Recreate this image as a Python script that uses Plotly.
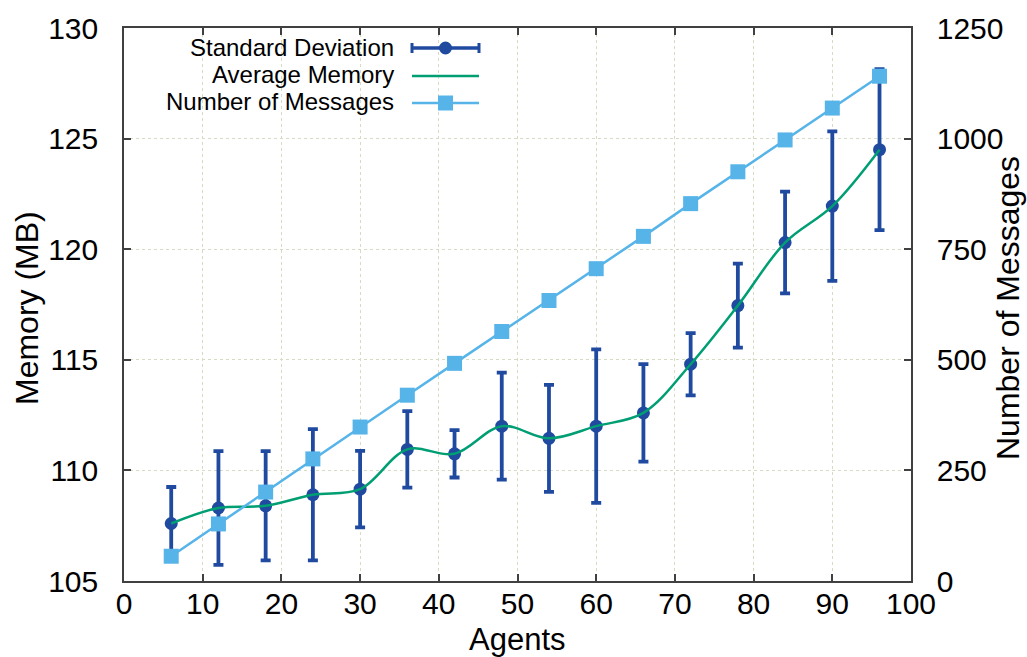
import plotly.graph_objects as go

agents = [6, 12, 18, 24, 30, 36, 42, 48, 54, 60, 66, 72, 78, 84, 90, 96]
avg_memory = [107.6, 108.3, 108.4, 108.9, 109.15, 110.95, 110.75, 112.0, 111.45, 112.0,
              112.6, 114.8, 117.45, 120.3, 121.95, 124.5]
std_dev = [1.65, 2.57, 2.47, 2.97, 1.73, 1.73, 1.07, 2.42, 2.42, 3.47,
           2.2, 1.41, 1.9, 2.3, 3.38, 3.64]
messages = [56, 129, 201, 276, 348, 420, 492, 564, 634, 706, 779, 853, 925, 997, 1069, 1141]

x_ticks = list(range(0, 101, 10))
y_ticks = [105, 110, 115, 120, 125, 130]
y2_ticks = [0, 250, 500, 750, 1000, 1250]

DARK = "#1f4aa0"
GREEN = "#009e73"
LIGHT = "#56b4e9"
FONT = "Liberation Sans, Arial, sans-serif"
TICK_SIZE = 30
LEG_SIZE = 24

fig = go.Figure()

fig.add_trace(go.Scatter(
    x=agents, y=messages, mode="lines+markers", name="Number of Messages",
    yaxis="y2", line=dict(color=LIGHT, width=2.5),
    marker=dict(symbol="square", size=15, color=LIGHT),
    showlegend=False))

fig.add_trace(go.Scatter(
    x=agents, y=avg_memory, mode="markers", name="Standard Deviation",
    marker=dict(symbol="circle", size=13, color=DARK),
    error_y=dict(type="data", array=std_dev, visible=True, color=DARK, thickness=3.8, width=5),
    showlegend=False))

fig.add_trace(go.Scatter(
    x=agents, y=avg_memory, mode="lines", name="Average Memory",
    line=dict(color=GREEN, width=2.5, shape="spline", smoothing=1.0),
    showlegend=False))

# custom legend (text right-aligned, sample to the right), gnuplot style
L, R, T, B = 124, 911, 28, 581
W, H = R - L, B - T

def px(xp):
    return (xp - L) / W

def py(yp):
    return (B - yp) / H

legend_rows = [("Standard Deviation", 47), ("Average Memory", 75), ("Number of Messages", 102)]
for text, yy in legend_rows:
    fig.add_annotation(x=px(396), y=py(yy), xref="paper", yref="paper", text=text,
                       showarrow=False, xanchor="right", yanchor="middle",
                       font=dict(family=FONT, size=LEG_SIZE, color="#000000"))

sx0, sx1 = px(412), px(479)
# standard deviation sample
fig.add_shape(type="line", xref="paper", yref="paper", x0=sx0, x1=sx1, y0=py(48), y1=py(48),
              line=dict(color=DARK, width=3.5))
for xe in (412, 479):
    fig.add_shape(type="line", xref="paper", yref="paper", x0=px(xe), x1=px(xe),
                  y0=py(43), y1=py(53), line=dict(color=DARK, width=3))
fig.add_shape(type="circle", xref="paper", yref="paper", xsizemode="pixel", ysizemode="pixel",
              xanchor=px(445.5), yanchor=py(48), x0=-6.5, x1=6.5, y0=-6.5, y1=6.5,
              fillcolor=DARK, line=dict(color=DARK, width=0))
# average memory sample
fig.add_shape(type="line", xref="paper", yref="paper", x0=sx0, x1=sx1, y0=py(76), y1=py(76),
              line=dict(color=GREEN, width=2.5))
# messages sample
fig.add_shape(type="line", xref="paper", yref="paper", x0=sx0, x1=sx1, y0=py(103), y1=py(103),
              line=dict(color=LIGHT, width=2.5))
fig.add_shape(type="rect", xref="paper", yref="paper", xsizemode="pixel", ysizemode="pixel",
              xanchor=px(445.5), yanchor=py(103), x0=-7.5, x1=7.5, y0=-7.5, y1=7.5,
              fillcolor=LIGHT, line=dict(color=LIGHT, width=0))

# axis titles as annotations for exact placement
fig.add_annotation(x=0.5, y=py(639), xref="paper", yref="paper", text="Agents",
                   showarrow=False, xanchor="center", yanchor="middle",
                   font=dict(family=FONT, size=31, color="#000000"))
fig.add_annotation(x=px(27), y=py(308), xref="paper", yref="paper", text="Memory (MB)",
                   showarrow=False, xanchor="center", yanchor="middle", textangle=-90,
                   font=dict(family=FONT, size=32, color="#000000"))
fig.add_annotation(x=px(1008), y=py(308), xref="paper", yref="paper", text="Number of Messages",
                   showarrow=False, xanchor="center", yanchor="middle", textangle=-90,
                   font=dict(family=FONT, size=32, color="#000000"))

axis_common = dict(
    showline=True, linecolor="#404040", linewidth=1.5,
    ticks="inside", ticklen=7, tickcolor="#404040", tickwidth=1.5,
    tickfont=dict(family=FONT, size=TICK_SIZE, color="#000000"),
    zeroline=False, automargin=False,
)

fig.update_layout(
    width=1027, height=657,
    margin=dict(l=L, r=1027 - R, t=T, b=657 - B, autoexpand=False),
    paper_bgcolor="white", plot_bgcolor="white",
    showlegend=False,
    xaxis=dict(range=[0, 100], tickvals=x_ticks, mirror="ticks",
               showgrid=True, gridcolor="#d5dcc4", griddash="dot", gridwidth=1,
               ticklabelstandoff=-5,
               **axis_common),
    yaxis=dict(range=[105, 130], tickvals=y_ticks, mirror=True,
               showgrid=True, gridcolor="#d5dcc4", griddash="dot", gridwidth=1,
               ticklabelstandoff=18,
               **axis_common),
    yaxis2=dict(range=[0, 1250], tickvals=y2_ticks, overlaying="y", side="right",
                showgrid=False,
                ticklabelstandoff=18,
                **axis_common),
)

fig.write_html("out.html", config={"displayModeBar": False},
               post_script="document.body.style.margin='0';document.body.style.padding='0';"
                           "document.documentElement.style.margin='0';")
